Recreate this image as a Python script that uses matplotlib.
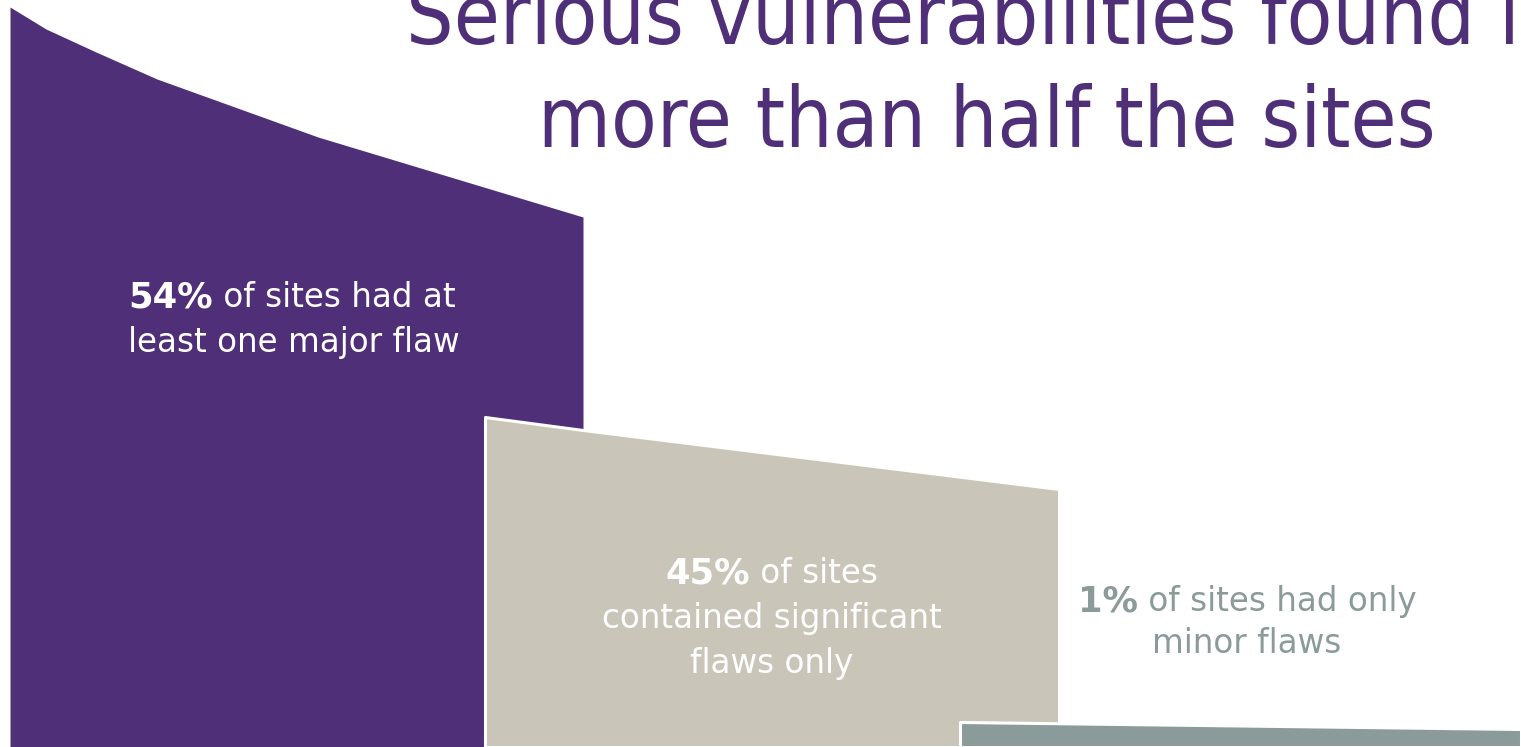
import matplotlib
matplotlib.use("Agg")
import matplotlib.pyplot as plt

# ---------------- data ----------------
shares = [54, 45, 1]
labels_rest = [
    [" of sites had at", "least one major flaw"],
    [" of sites", "contained significant", "flaws only"],
    [" of sites had only", "minor flaws"],
]
title_lines = ["Serious vulnerabilities found in", "more than half the sites"]

# profile of each stepped block: x positions and top heights (chart units, 0 = bottom)
major_x = [10, 46, 96, 157, 318, 583]
major_top = [740, 718, 695, 668, 610, 530]
signif_x = [485, 583, 1059]
signif_top = [330, 317, 258]
minor_x = [960, 1521]
minor_top = [25, 18]

# ---------------- style ----------------
PURPLE = "#4f2f78"
BEIGE = "#cac5b9"
GREY = "#8b9b9a"
FONT = "DejaVu Sans"

W, H = 1521, 747
fig = plt.figure(figsize=(W / 100, H / 100), dpi=100)
ax = fig.add_axes([0, 0, 1, 1])
ax.set_xlim(0, W)
ax.set_ylim(0, H)
ax.axis("off")

ax.fill_between(major_x, 0, major_top, color=PURPLE, lw=0, zorder=1)
ax.fill_between(signif_x, 0, signif_top, facecolor=BEIGE, edgecolor="white", lw=2.2, zorder=2)
ax.fill_between(minor_x, 0, minor_top, facecolor=GREY, edgecolor="white", lw=2.2, zorder=3)

renderer = fig.canvas.get_renderer()
inv = ax.transData.inverted()


def width_of(t):
    bb = t.get_window_extent(renderer)
    p0 = inv.transform((bb.x0, bb.y0))
    p1 = inv.transform((bb.x1, bb.y1))
    return p1[0] - p0[0]


BODY = 23.5
BOLD = 25.5


def mixed_line(parts, x, y, color, align="left"):
    """parts: list of (text, weight)"""
    arts = []
    for txt, wt in parts:
        size = BOLD if wt == "bold" else BODY
        t = ax.text(0, y, txt, fontsize=size, fontweight=wt, color=color,
                    family=FONT, va="baseline", ha="left", zorder=5)
        arts.append(t)
    widths = [width_of(a) for a in arts]
    total = sum(widths)
    start = x if align == "left" else x - total / 2
    cx = start
    for a, w in zip(arts, widths):
        a.set_x(cx)
        cx += w


# block 1
mixed_line([(f"{shares[0]}%", "bold"), (labels_rest[0][0], "normal")], 128, H - 307, "white")
mixed_line([(labels_rest[0][1], "normal")], 128, H - 352, "white")
# block 2
mixed_line([(f"{shares[1]}%", "bold"), (labels_rest[1][0], "normal")], 772, H - 583, "white", "center")
mixed_line([(labels_rest[1][1], "normal")], 772, H - 628, "white", "center")
mixed_line([(labels_rest[1][2], "normal")], 772, H - 673, "white", "center")
# block 3
mixed_line([(f"{shares[2]}%", "bold"), (labels_rest[2][0], "normal")], 1247, H - 611, GREY, "center")
mixed_line([(labels_rest[2][1], "normal")], 1247, H - 653, GREY, "center")

# title
TS = 60
ax.text(987, H - 44, title_lines[0], fontsize=TS, color=PURPLE, family=FONT,
        fontstretch="condensed", ha="center", va="baseline", zorder=6)
ax.text(987, H - 147, title_lines[1], fontsize=TS, color=PURPLE, family=FONT,
        fontstretch="condensed", ha="center", va="baseline", zorder=6)

fig.savefig("out.png", dpi=100)
